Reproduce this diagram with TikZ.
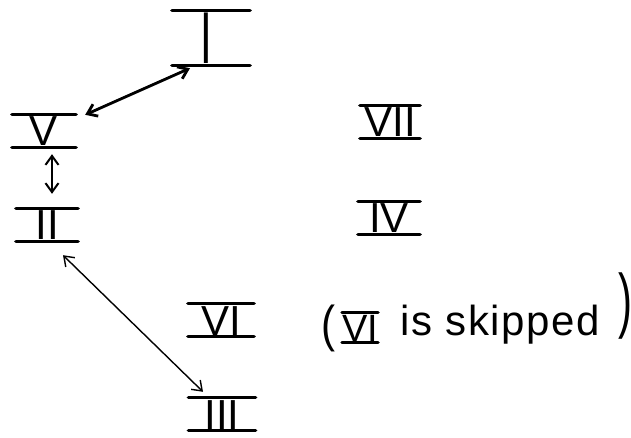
\documentclass[tikz,border=0pt]{standalone}
\usepackage{fontspec}
\setmainfont{Liberation Sans}
\usetikzlibrary{arrows.meta,calc}
\tikzset{
  numeral/.style={inner xsep=0pt, inner ysep=1pt, text height=30pt, text depth=0pt,
    font=\fontsize{42}{42}\selectfont, minimum width=#1},
  bar/.style={line width=3.2pt, line cap=round},
  link/.style={{Straight Barb[length=9pt,width=13pt]}-{Straight Barb[length=9pt,width=13pt]}, line width=#1},
  note/.style={inner sep=0pt, font=\fontsize{42}{42}\selectfont},
}
\begin{document}
\begin{tikzpicture}[x=1pt,y=-1pt]
\useasboundingbox (0,0) rectangle (631,438);
\node[numeral=78, text height=52pt] (I) at (211,38) {\hspace*{-10pt}\scalebox{1}[1.75]{I}};
\node[numeral=64] (V) at (44,131) {V};
\node[numeral=62] (II) at (47,225) {II};
\node[numeral=60] (VII) at (390,122) {VII};
\node[numeral=62] (IV) at (389,218) {IV};
\node[numeral=66] (VI) at (221,320) {VI};
\node[numeral=67] (III) at (222,414) {III};
% note
\node[numeral=34, font=\fontsize{38}{38}\selectfont, text height=27pt] (sVI) at (360,327.5) {VI};
\foreach \n in {I,V,II,VII,IV,VI,III,sVI}
  \draw[bar] (\n.north west) -- (\n.north east) (\n.south west) -- (\n.south east);
\node[note] (lp) at (328,328) {\scalebox{1}[1.2]{(}};
\node[note, anchor=base west] (txt) at (400,335) {\addfontfeature{LetterSpace=4}is skipped};
\node[note] (rp) at (625,306) {\scalebox{1}[1.7]{)}};
% connectors
\draw[link=2.8pt] ($(I.south)+(-21,3)$) -- ($(V.north east)+(9,0)$);
\draw[link=2pt] ($(V.south)+(8,7)$) -- ($(II.north)+(5,-15)$);
\draw[link=1.4pt] ($(II.south)+(16,14)$) -- ($(III.north)+(-19,-6)$);
\end{tikzpicture}
\end{document}
